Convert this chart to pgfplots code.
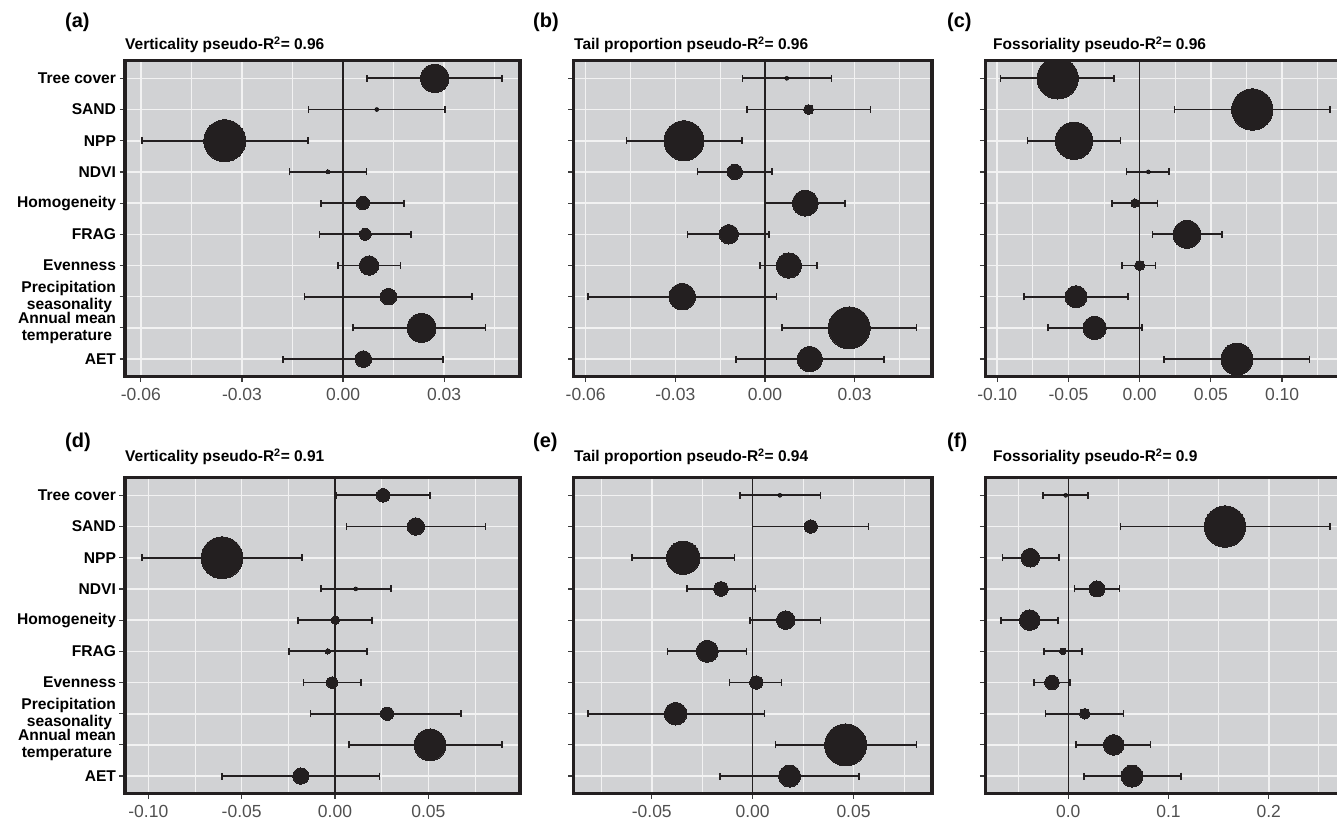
\documentclass[border=0pt]{standalone}
\usepackage{pgfplots}
\pgfplotsset{compat=1.18}
\usepackage{pgfplotstable}
\usepackage{fontspec}
\setmainfont{Liberation Sans}
\definecolor{bgc}{RGB}{209,210,212}
\definecolor{gridc}{RGB}{242,242,242}
\definecolor{ptc}{RGB}{35,31,32}
\definecolor{tickc}{RGB}{80,80,80}
\definecolor{tickmk}{RGB}{60,60,60}

% y: 1 Tree cover, 2 SAND, 3 NPP, 4 NDVI, 5 Homogeneity, 6 FRAG, 7 Evenness,
%    8 Precipitation seasonality, 9 Annual mean temperature, 10 AET
\pgfplotstableread{
y x lo hi r
1 0.0272 0.0071 0.0471 14.2
2 0.0100 -0.0103 0.0303 1.5
3 -0.0351 -0.0596 -0.0104 21.0
4 -0.0045 -0.0159 0.0069 2.0
5 0.0059 -0.0066 0.0181 6.7
6 0.0066 -0.0070 0.0202 6.0
7 0.0077 -0.0015 0.0170 9.7
8 0.0135 -0.0115 0.0383 8.3
9 0.0233 0.0030 0.0423 14.5
10 0.0060 -0.0178 0.0297 8.3
}\tabA
\pgfplotstableread{
y x lo hi r
1 0.0073 -0.0075 0.0223 1.5
2 0.0146 -0.0060 0.0353 5.0
3 -0.0271 -0.0464 -0.0077 20.0
4 -0.0101 -0.0226 0.0023 7.7
5 0.0135 0.0001 0.0268 13.0
6 -0.0121 -0.0260 0.0013 9.7
7 0.0080 -0.0017 0.0174 12.7
8 -0.0277 -0.0592 0.0038 13.3
9 0.0282 0.0057 0.0507 21.0
10 0.0150 -0.0097 0.0398 12.7
}\tabB
\pgfplotstableread{
y x lo hi r
1 -0.0576 -0.0976 -0.0180 20.7
2 0.0791 0.0243 0.1336 20.7
3 -0.0461 -0.0787 -0.0134 18.7
4 0.0061 -0.0091 0.0206 1.5
5 -0.0033 -0.0195 0.0124 4.3
6 0.0332 0.0089 0.0578 14.0
7 0.0000 -0.0124 0.0112 5.0
8 -0.0447 -0.0812 -0.0082 11.0
9 -0.0316 -0.0644 0.0016 11.7
10 0.0683 0.0171 0.1191 16.0
}\tabC
\pgfplotstableread{
y x lo hi r
1 0.0258 0.0004 0.0509 6.8
2 0.0433 0.0062 0.0807 8.7
3 -0.0605 -0.1033 -0.0177 20.9
4 0.0111 -0.0074 0.0301 1.5
5 0.0002 -0.0197 0.0199 4.3
6 -0.0038 -0.0246 0.0171 2.7
7 -0.0016 -0.0168 0.0138 5.7
8 0.0279 -0.0130 0.0674 6.7
9 0.0509 0.0076 0.0895 15.9
10 -0.0183 -0.0605 0.0237 8.1
}\tabD
\pgfplotstableread{
y x lo hi r
1 0.0135 -0.0064 0.0335 1.5
2 0.0288 -0.0002 0.0573 6.7
3 -0.0344 -0.0597 -0.0089 16.7
4 -0.0157 -0.0326 0.0015 7.3
5 0.0164 -0.0012 0.0337 9.3
6 -0.0225 -0.0421 -0.0030 11.0
7 0.0018 -0.0114 0.0144 6.7
8 -0.0382 -0.0817 0.0058 11.3
9 0.0461 0.0112 0.0813 21.0
10 0.0183 -0.0162 0.0527 11.0
}\tabE
\pgfplotstableread{
y x lo hi r
1 -0.0026 -0.0250 0.0197 1.5
2 0.1564 0.0519 0.2612 20.7
3 -0.0379 -0.0659 -0.0093 9.3
4 0.0286 0.0064 0.0513 8.0
5 -0.0385 -0.0672 -0.0103 10.3
6 -0.0056 -0.0243 0.0137 3.3
7 -0.0163 -0.0342 0.0017 7.3
8 0.0164 -0.0226 0.0549 5.3
9 0.0453 0.0077 0.0818 10.3
10 0.0636 0.0157 0.1122 11.0
}\tabF

\pgfplotsset{
  panel/.style={
    anchor=north west, scale only axis,
    y dir=reverse, ymin=0.435, ymax=10.565,
    ytick={1,...,10},
    scaled x ticks=false,
    axis background/.style={fill=bgc},
    axis line style={line width=3.3pt, draw=ptc},
    xmajorgrids, ymajorgrids, xminorgrids,
    major grid style={draw=gridc, line width=1.6pt},
    minor grid style={draw=gridc, line width=0.9pt},
    tick align=outside, xtick pos=left, ytick pos=left,
    major tick length=5.5pt, minor tick length=0pt,
    tick style={draw=tickmk, line width=1.2pt},
    xticklabel style={font=\fontsize{17.5}{17.5}\selectfont, text=tickc, yshift=-2.5pt},
    yticklabel style={font=\fontsize{15.6}{17}\selectfont\bfseries, align=right, text=black},
    clip marker paths=true,
  },
  ylabs/.style={yticklabels={Tree cover, SAND, NPP, NDVI, Homogeneity, FRAG, Evenness, {Precipitation\\seasonality\hspace*{4pt}}, {Annual mean\\temperature\hspace*{4pt}}, AET}},
  nolabs/.style={yticklabels={}},
}

\newcommand{\drawpanel}[1]{%
  \addplot[ptc, line width=1.6pt] coordinates {(0,0.435) (0,10.565)};
  \addplot[only marks, mark=none, error bars/.cd, x dir=both, x explicit,
    error mark=|,
    error bar style={draw=ptc, line width=1.8pt},
    error mark options={draw=ptc, line width=1.5pt, mark size=3.5pt}]
    table[x=x, y=y, x error plus expr=\thisrow{hi}-\thisrow{x}, x error minus expr=\thisrow{x}-\thisrow{lo}] {#1};
  \addplot[scatter, only marks, mark=*, scatter/use mapped color={draw=ptc, fill=ptc},
    mark options={line width=0pt},
    visualization depends on={\thisrow{r}\as\rad},
    scatter/@pre marker code/.append style={/tikz/mark size=\rad}]
    table[x=x, y=y] {#1};
}

\begin{document}
\begin{tikzpicture}
\useasboundingbox (0,0) rectangle (1337pt,-819pt);

% (a)
\begin{axis}[panel, ylabs, name=A, at={(125pt,-60.7pt)}, width=395pt, height=316pt,
  xmin=-0.0647, xmax=0.0525,
  xtick={-0.06,-0.03,0,0.03}, xticklabels={-0.06,-0.03,0.00,0.03},
  minor xtick={-0.045,-0.015,0.015,0.045}]
\drawpanel{\tabA}
\end{axis}
% (b)
\begin{axis}[panel, nolabs, name=B, at={(573.7pt,-60.7pt)}, width=358.3pt, height=316pt,
  xmin=-0.0640, xmax=0.0559,
  xtick={-0.06,-0.03,0,0.03}, xticklabels={-0.06,-0.03,0.00,0.03},
  minor xtick={-0.045,-0.015,0.015,0.045}]
\drawpanel{\tabB}
\end{axis}
% (c)
\begin{axis}[panel, nolabs, name=C, at={(985.3pt,-60.7pt)}, width=359.7pt, height=316pt,
  xmin=-0.1084, xmax=0.1442,
  xtick={-0.1,-0.05,0,0.05,0.1}, xticklabels={-0.10,-0.05,0.00,0.05,0.10},
  minor xtick={-0.075,-0.025,0.025,0.075,0.125}]
\drawpanel{\tabC}
\end{axis}
% (d)
\begin{axis}[panel, ylabs, name=D, at={(125pt,-477.7pt)}, width=395pt, height=316pt,
  xmin=-0.1125, xmax=0.0991,
  xtick={-0.1,-0.05,0,0.05}, xticklabels={-0.10,-0.05,0.00,0.05},
  minor xtick={-0.075,-0.025,0.025,0.075}]
\drawpanel{\tabD}
\end{axis}
% (e)
\begin{axis}[panel, nolabs, name=E, at={(573.7pt,-477.7pt)}, width=358.3pt, height=316pt,
  xmin=-0.0887, xmax=0.0889,
  xtick={-0.05,0,0.05}, xticklabels={-0.05,0.00,0.05},
  minor xtick={-0.075,-0.025,0.025,0.075}]
\drawpanel{\tabE}
\end{axis}
% (f)
\begin{axis}[panel, nolabs, name=F, at={(985.3pt,-477.7pt)}, width=359.7pt, height=316pt,
  xmin=-0.0828, xmax=0.2761,
  xtick={0,0.1,0.2}, xticklabels={0.0,0.1,0.2},
  minor xtick={-0.05,0.05,0.15,0.25}]
\drawpanel{\tabF}
\end{axis}

\foreach \n in {A,B,C,D,E,F}{
  \draw[ptc, line width=3.3pt] (\n.south west) rectangle (\n.north east);
}

\begin{scope}[every node/.style={anchor=base west, inner sep=0pt}]
\node[font=\fontsize{20}{20}\selectfont\bfseries] at (65pt,-27.5pt) {(a)};
\node[font=\fontsize{20}{20}\selectfont\bfseries] at (533pt,-27.5pt) {(b)};
\node[font=\fontsize{20}{20}\selectfont\bfseries] at (947pt,-27.5pt) {(c)};
\node[font=\fontsize{20}{20}\selectfont\bfseries] at (65pt,-447.5pt) {(d)};
\node[font=\fontsize{20}{20}\selectfont\bfseries] at (533pt,-447.5pt) {(e)};
\node[font=\fontsize{20}{20}\selectfont\bfseries] at (947pt,-447.5pt) {(f)};
\node[font=\fontsize{15.5}{18}\selectfont\bfseries] at (125pt,-49.5pt) {Verticality pseudo-R\textsuperscript{2}= 0.96};
\node[font=\fontsize{15.5}{18}\selectfont\bfseries] at (574pt,-49.5pt) {Tail proportion pseudo-R\textsuperscript{2}= 0.96};
\node[font=\fontsize{15.5}{18}\selectfont\bfseries] at (993pt,-49.5pt) {Fossoriality pseudo-R\textsuperscript{2}= 0.96};
\node[font=\fontsize{15.5}{18}\selectfont\bfseries] at (125pt,-461.7pt) {Verticality pseudo-R\textsuperscript{2}= 0.91};
\node[font=\fontsize{15.5}{18}\selectfont\bfseries] at (574pt,-461.7pt) {Tail proportion pseudo-R\textsuperscript{2}= 0.94};
\node[font=\fontsize{15.5}{18}\selectfont\bfseries] at (993pt,-461.7pt) {Fossoriality pseudo-R\textsuperscript{2}= 0.9};
\end{scope}
\end{tikzpicture}
\end{document}
